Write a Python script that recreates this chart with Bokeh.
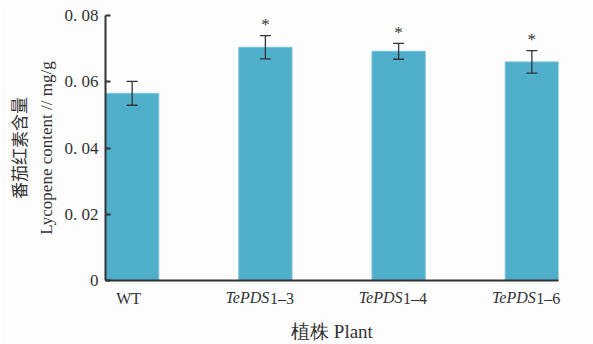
from bokeh.plotting import figure
from bokeh.models import (ColumnDataSource, Whisker, LabelSet, FixedTicker, Range1d,
                          LinearAxis)
from bokeh.embed import file_html
from bokeh.resources import INLINE

# ---- data ----
categories = ["WT", "TePDS1–3", "TePDS1–4", "TePDS1–6"]
italic_part = ["", "TePDS", "TePDS", "TePDS"]
plain_part = ["WT", "1–3", "1–4", "1–6"]
lycopene = [0.0565, 0.0704, 0.0692, 0.0660]
error = [0.0036, 0.0035, 0.0024, 0.0034]
significant = ["", "*", "*", "*"]
y_ticks = [0, 0.02, 0.04, 0.06, 0.08]
y_tick_labels = ["0", "0. 02", "0. 04", "0. 06", "0. 08"]

xpos = [i + 1 for i in range(len(categories))]
upper = [v + e for v, e in zip(lycopene, error)]
lower = [v - e for v, e in zip(lycopene, error)]

src = ColumnDataSource(dict(x=xpos, top=lycopene, upper=upper, lower=lower,
                            star=significant))

SERIF = "Liberation Serif"
DARK = "#333333"
X0, X1 = 0.8, 4.2
FRAME_W = 593 - 105 - 35
PX = (X1 - X0) / FRAME_W  # data units per pixel

p = figure(width=593, height=344, output_backend="svg", toolbar_location=None,
           x_range=Range1d(X0, X1), y_range=Range1d(0, 0.08),
           min_border_left=105, min_border_right=35, min_border_top=15,
           min_border_bottom=64, background_fill_color="#FDFDFD",
           border_fill_color="#FDFDFD")
p.outline_line_color = None
p.grid.visible = False

p.vbar(x="x", top="top", width=0.4, source=src, fill_color="#4FAFCB",
       line_color="#7CC4DA", line_width=1)

w = Whisker(base="x", upper="upper", lower="lower", source=src,
            line_color=DARK, line_width=1.3, level="overlay")
for h in (w.upper_head, w.lower_head):
    h.size = 11
    h.line_color = DARK
    h.line_width = 1.3
p.add_layout(w)

p.add_layout(LabelSet(x="x", y="upper", text="star", source=src,
                      text_align="center", text_baseline="middle", y_offset=11,
                      text_font=SERIF, text_font_size="17px", text_color=DARK))

# ---- y axis (inner: ticks + English title) ----
ya = p.yaxis[0]
ya.ticker = FixedTicker(ticks=y_ticks)
ya.major_label_overrides = {t: l for t, l in zip(y_ticks, y_tick_labels)}
ya.major_tick_in = 5
ya.major_tick_out = 0
ya.minor_tick_line_color = None
ya.axis_line_width = 2
ya.axis_line_color = DARK
ya.major_tick_line_color = DARK
ya.major_tick_line_width = 2
ya.major_label_text_font = SERIF
ya.major_label_text_font_size = "17px"
ya.major_label_text_color = DARK
ya.major_label_standoff = 7
ya.axis_label = "Lycopene content // mg/g"
ya.axis_label_text_font = SERIF
ya.axis_label_text_font_style = "normal"
ya.axis_label_text_font_size = "17px"
ya.axis_label_text_color = DARK
ya.axis_label_standoff = 6

# outer y axis: Chinese title only
ya2 = LinearAxis(ticker=FixedTicker(ticks=[]), axis_line_color=None,
                 major_tick_line_color=None, minor_tick_line_color=None,
                 major_label_text_font_size="0px",
                 axis_label="番茄红素含量", axis_label_text_font="Noto Sans CJK SC",
                 axis_label_text_font_style="normal",
                 axis_label_text_font_size="17px", axis_label_text_color=DARK,
                 axis_label_standoff=3)
p.add_layout(ya2, "left")

# ---- x axis: italic part of the category labels ----
ital_ticks, ital_over = [], {}
plain_ticks, plain_over = [], {}
for x, it, pl in zip(xpos, italic_part, plain_part):
    if it:
        t = x - 18.0 * PX
        ital_ticks.append(t)
        ital_over[t] = it
        t2 = x + 16.5 * PX
    else:
        t2 = x - 3.5 * PX
    plain_ticks.append(t2)
    plain_over[t2] = pl

xa = p.xaxis[0]
xa.ticker = FixedTicker(ticks=ital_ticks)
xa.major_label_overrides = ital_over
xa.major_label_text_font = SERIF
xa.major_label_text_font_style = "italic"
xa.major_label_text_font_size = "16px"
xa.major_label_text_color = DARK
xa.major_label_standoff = 8
xa.axis_line_width = 2
xa.axis_line_color = DARK
xa.major_tick_line_color = None
xa.minor_tick_line_color = None
xa.major_tick_out = 0
xa.major_tick_in = 0

# second x axis: upright part of the labels (pulled up into the same row) + title
xa2 = LinearAxis(ticker=FixedTicker(ticks=plain_ticks),
                 major_label_overrides=plain_over, axis_line_color=None,
                 major_tick_line_color=None, minor_tick_line_color=None,
                 major_tick_in=0, major_tick_out=0,
                 major_label_text_font=SERIF, major_label_text_font_size="16px",
                 major_label_text_color=DARK, major_label_standoff=-19,
                 axis_label="植株 Plant", axis_label_text_font=SERIF,
                 axis_label_text_font_style="normal",
                 axis_label_text_font_size="19px", axis_label_text_color=DARK,
                 axis_label_standoff=11)
p.add_layout(xa2, "below")

open("out.html", "w").write(file_html(p, INLINE))
